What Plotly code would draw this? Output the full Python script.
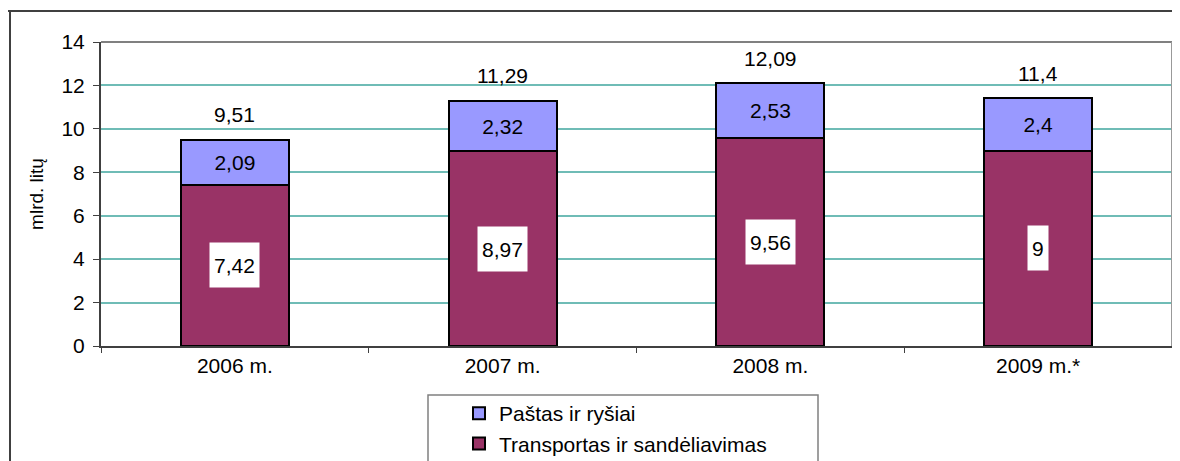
import plotly.graph_objects as go

years = ["2006 m.", "2007 m.", "2008 m.", "2009 m.*"]
transport = [7.42, 8.97, 9.56, 9.0]
postal = [2.09, 2.32, 2.53, 2.4]
series_names = ["Transportas ir sandėliavimas", "Paštas ir ryšiai"]
y_title = "mlrd. litų"

totals = [round(a + b, 2) for a, b in zip(transport, postal)]


def fmt(v):
    return f"{v:g}".replace(".", ",")


# the page body has an 8px margin, so figure coords = screen coords - 8
OFF = 8
W, H = 1180 - OFF, 461 - OFF
L, R, T, B = 101 - OFF, 1172 - OFF, 42 - OFF, 346 - OFF  # plot area


def px(x):
    return (x - OFF - L) / (R - L)


def py(y):
    return (B - (y - OFF)) / (B - T)


FONT = "Liberation Sans, Arial, sans-serif"
fig = go.Figure()
fig.add_trace(go.Bar(
    x=years, y=transport, name=series_names[0],
    marker=dict(color="#993366", line=dict(color="#000000", width=2)),
))
fig.add_trace(go.Bar(
    x=years, y=postal, name=series_names[1],
    marker=dict(color="#9999FF", line=dict(color="#000000", width=2)),
    text=[fmt(v) for v in postal], textposition="inside",
    insidetextanchor="middle", textangle=0, constraintext="none",
    textfont=dict(color="#000000", size=21, family=FONT),
))

annotations = []
for yr, t, tot in zip(years, transport, totals):
    annotations.append(dict(
        x=yr, y=t / 2, xref="x", yref="y", text=fmt(t), showarrow=False,
        bgcolor="#FFFFFF", height=36, borderpad=4,
        font=dict(size=21, color="#000000", family=FONT),
    ))
    annotations.append(dict(
        x=yr, y=tot, xref="x", yref="y", text=fmt(tot), showarrow=False,
        yshift=25, font=dict(size=21, color="#000000", family=FONT),
    ))

shapes = [
    # plot area top and right borders
    dict(type="line", xref="paper", yref="paper", x0=0, x1=1, y0=1, y1=1,
         line=dict(color="#808080", width=2)),
    dict(type="line", xref="paper", yref="paper", x0=1, x1=1, y0=0, y1=1,
         line=dict(color="#999999", width=2)),
    # outer frame
    dict(type="line", xref="paper", yref="paper", x0=px(4), x1=px(1190),
         y0=py(11), y1=py(11), line=dict(color="#404040", width=2)),
    dict(type="line", xref="paper", yref="paper", x0=px(10), x1=px(10),
         y0=py(11), y1=py(475), line=dict(color="#404040", width=2)),
    # legend box
    dict(type="rect", xref="paper", yref="paper", x0=px(428), x1=px(818),
         y0=py(475), y1=py(395), line=dict(color="#808080", width=1.5),
         fillcolor="rgba(0,0,0,0)"),
]

fig.update_layout(
    width=W, height=H,
    margin=dict(l=L, r=W - R, t=T, b=H - B, autoexpand=False),
    paper_bgcolor="#FFFFFF", plot_bgcolor="#FFFFFF",
    barmode="stack", bargap=0.596,
    font=dict(family=FONT, size=20, color="#000000"),
    showlegend=True,
    legend=dict(
        x=px(459), y=py(393), xanchor="left", yanchor="top",
        bgcolor="rgba(0,0,0,0)", borderwidth=0,
        font=dict(size=21, family=FONT), traceorder="reversed",
        tracegroupgap=0,
    ),
    xaxis=dict(
        showline=True, linecolor="#404040", linewidth=2, automargin=False,
        ticks="outside", tickson="boundaries", ticklen=5, tickcolor="#404040",
        showgrid=False, tickfont=dict(size=21, family=FONT),
    ),
    yaxis=dict(
        range=[0, 14], dtick=2, showline=True, linecolor="#404040", linewidth=2,
        ticks="outside", ticklen=6, tickcolor="#404040", automargin=False,
        gridcolor="#6FBCB6", gridwidth=1.5, zeroline=False,
        tickfont=dict(size=21, family=FONT), ticklabelstandoff=4,
        title=dict(text=y_title, font=dict(size=19, family=FONT), standoff=13),
    ),
    annotations=annotations,
    shapes=shapes,
)

fig.write_html("out.html")
